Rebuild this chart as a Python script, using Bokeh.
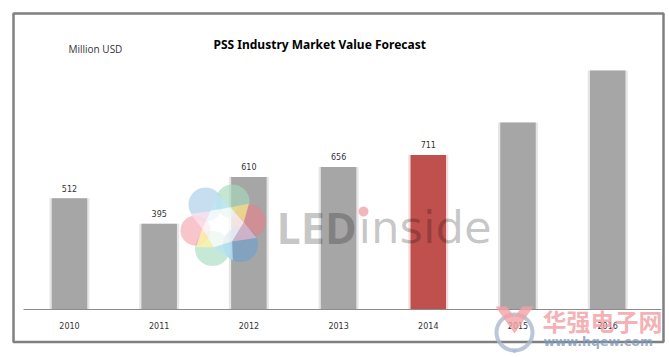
import math
from bokeh.embed import file_html
from bokeh.resources import INLINE
from bokeh.plotting import figure
from bokeh.models import (ColumnDataSource, Range1d, FixedTicker, Label, PolyAnnotation)

years = ["2010", "2011", "2012", "2013", "2014", "2015", "2016"]
values = [512, 395, 610, 656, 711, 860, 1100]
labelled_years = [0, 1, 2, 3, 4]
labelled_values = [512, 395, 610, 656, 711]
bar_colors = ["#a6a6a6", "#a6a6a6", "#a6a6a6", "#a6a6a6", "#c0504d", "#a6a6a6", "#a6a6a6"]
halo_colors = ["#e6e6e6", "#e6e6e6", "#e6e6e6", "#e6e6e6", "#f2dcdb", "#e6e6e6", "#e6e6e6"]
title_text = "PSS Industry Market Value Forecast"
unit_text = "Million USD"

W, H = 669, 357

p = figure(width=W, height=H, output_backend="svg", toolbar_location=None,
           x_range=Range1d(-0.769, 6.689), y_range=Range1d(-220.9, 1422),
           min_border=0, outline_line_color=None,
           background_fill_color="white", border_fill_color="white")
p.grid.visible = False
p.yaxis.visible = False
ax = p.xaxis[0]
ax.fixed_location = 0
ax.bounds = (-0.513, 6.6)
ax.ticker = FixedTicker(ticks=list(range(len(years))))
ax.major_label_overrides = {i: y for i, y in enumerate(years)}
ax.major_tick_line_color = None
ax.minor_tick_line_color = None
ax.axis_line_color = "#8c8c8c"
ax.axis_line_width = 1
ax.major_label_standoff = 7
ax.major_label_text_font = "DejaVu Sans"
ax.major_label_text_font_size = "8px"
ax.major_label_text_color = "#333333"

src = ColumnDataSource(dict(x=list(range(len(years))), top=values, color=bar_colors, halo=halo_colors))
p.vbar(x="x", top="top", bottom=0, width=40 / 89.7, source=src, fill_color="halo", line_color=None)
p.vbar(x="x", top="top", bottom=0, width=35.5 / 89.7, source=src, fill_color="color", line_color=None)

lab = ColumnDataSource(dict(x=labelled_years, y=labelled_values, t=[str(v) for v in labelled_values]))
p.text(x="x", y="y", text="t", source=lab, text_align="center", text_baseline="middle", y_offset=-10,
       text_font_size="8px", text_color="#333333", text_font={"value": "DejaVu Sans"})


def poly(pts, fill, falpha, line=None, lw=0, lalpha=1.0):
    p.add_layout(PolyAnnotation(xs=[a for a, _ in pts], ys=[b for _, b in pts],
                                xs_units="canvas", ys_units="canvas",
                                fill_color=fill, fill_alpha=falpha,
                                line_color=line, line_width=lw, line_alpha=lalpha,
                                editable=False))


def circle(cx, cy, r, n=48):
    return [(cx + r * math.cos(2 * math.pi * i / n), cy + r * math.sin(2 * math.pi * i / n)) for i in range(n)]


def text(x, y, t, size, color, font, style="normal", alpha=1.0, align="left", base="middle"):
    p.add_layout(Label(x=x, y=y, x_units="canvas", y_units="canvas", text=t,
                       text_font=font, text_font_size=size, text_font_style=style, text_color=color,
                       text_alpha=alpha, text_align=align, text_baseline=base))


# LEDinside watermark: petals, overlap lenses, centre
Z = lambda X, Y: (175 + X / 3, 180 + Y / 3)
for cx, cy, r, col in [(205, 204, 17, "#a9cdea"), (232, 201, 17, "#a4d8bc"), (248, 221, 17, "#e5838b"),
                       (240, 244, 17.5, "#6f9fce"), (212, 248, 17.5, "#a8dcc0"), (195, 230, 15, "#f4a6ae")]:
    poly(circle(cx, cy, r), col, 0.65)
for pts, col in [([(125, 40), (165, 80), (105, 92)], "#bfe6f6"),
                 ([(220, 70), (205, 125), (165, 80)], "#f0e08c"),
                 ([(205, 125), (243, 172), (170, 183)], "#dcb8cc"),
                 ([(170, 183), (115, 200), (172, 240)], "#b8e2f4"),
                 ([(80, 145), (115, 200), (62, 200)], "#fff4a8"),
                 ([(45, 100), (105, 92), (80, 145)], "#fbe2ee")]:
    poly([Z(*q) for q in pts], col, 0.8)
poly([Z(*q) for q in [(105, 91), (165, 80), (205, 125), (170, 183), (115, 200), (80, 145)]], "white", 0.75)

text(276, 227, "LED", "43px", "#000000", "Open Sans", style="bold", alpha=0.22)
text(358, 227, "inside", "45px", "#000000", "DejaVu Sans", alpha=0.22)
poly(circle(363, 211, 5), "#f3b6bd", 1.0)

# chart texts
text(68, 48, unit_text, "10px", "#333333", "Open Sans")
text(213, 44, title_text, "12px", "#000000", "Noto Sans", style="bold")

# outer frame
poly([(13, 13), (663, 13), (663, 341.5), (13, 341.5)], None, 0, line="#808080", lw=2.5)

# hqew watermark
poly(circle(514, 332, 18), None, 0, line="#a9b9cf", lw=4, lalpha=0.8)
poly([(511, 349), (517, 349), (514, 353)], "#a9b9cf", 0.8)
poly([(495, 306), (506, 306), (514, 316), (522, 306), (533, 306), (514, 333)], "#f4a0a6", 0.8)
text(542, 320, "华强电子网", "24px", "#f29ca2", "Noto Sans CJK SC", style="bold", alpha=0.8)
text(543, 341, "www.hqew.com", "12.5px", "#7f99bb", "DejaVu Sans", style="bold", alpha=0.8)

open("out.html", "w").write(file_html(p, INLINE))
